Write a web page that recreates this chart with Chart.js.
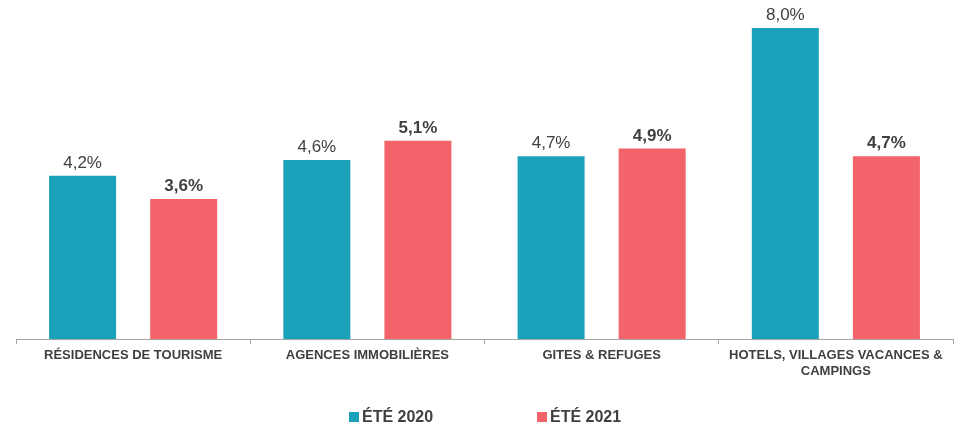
<!DOCTYPE html>
<html><head><meta charset="utf-8">
<script src="https://cdn.jsdelivr.net/npm/chart.js@4"></script>
<style>
html,body{margin:0;padding:0;background:#fff;}
#wrap{position:relative;width:956px;height:429px;}
#legend{position:absolute;top:408px;left:0;width:956px;font:bold 16px "Liberation Sans",Arial,sans-serif;color:#404040;}
#legend span{position:absolute;top:0;white-space:nowrap;}
#legend i{display:inline-block;width:10px;height:10px;margin-right:3px;vertical-align:0px;}
</style></head>
<body>
<div id="wrap"><canvas id="c" width="956" height="429"></canvas>
<div id="legend"></div></div>
<script>
const categories = ["RÉSIDENCES DE TOURISME", "AGENCES IMMOBILIÈRES", "GITES & REFUGES", ["HOTELS, VILLAGES VACANCES &", "CAMPINGS"]];
const seriesNames = ["ÉTÉ 2020", "ÉTÉ 2021"];
const ete2020 = [4.2, 4.6, 4.7, 8.0];
const ete2021 = [3.6, 5.1, 4.9, 4.7];
const colors = ["#1BA1B9", "#F2646A"];

const fmt = v => v.toFixed(1).replace('.', ',') + '%';

const valueLabels = {
  id: 'valueLabels',
  afterDatasetsDraw(chart) {
    const ctx = chart.ctx;
    ctx.save();
    ctx.textAlign = 'center';
    ctx.textBaseline = 'bottom';
    ctx.fillStyle = '#404040';
    chart.data.datasets.forEach((ds, di) => {
      const meta = chart.getDatasetMeta(di);
      ctx.font = (di === 1 ? 'bold ' : '') + '17px "Liberation Sans", Arial, sans-serif';
      meta.data.forEach((bar, i) => {
        ctx.fillText(fmt(ds.data[i]), bar.x, bar.y - 4);
      });
    });
    ctx.restore();
  }
};

new Chart(document.getElementById('c'), {
  type: 'bar',
  data: {
    labels: categories,
    datasets: [
      {label: seriesNames[0], data: ete2020, backgroundColor: colors[0], categoryPercentage: 0.863, barPercentage: 0.663},
      {label: seriesNames[1], data: ete2021, backgroundColor: colors[1], categoryPercentage: 0.863, barPercentage: 0.663}
    ]
  },
  options: {
    responsive: false,
    animation: false,
    layout: {padding: {left: 16, right: 3, top: 10, bottom: 0}},
    plugins: {legend: {display: false}, tooltip: {enabled: false}},
    scales: {
      y: {display: false, min: 0, max: 8.46},
      x: {
        grid: {display: true, drawOnChartArea: false, drawTicks: true, tickLength: 5, color: '#A6A6A6'},
        border: {display: true, color: '#A6A6A6', width: 1},
        ticks: {color: '#404040', font: {family: '"Liberation Sans", Arial, sans-serif', size: 13, weight: 'bold'}, padding: 4, maxRotation: 0, autoSkip: false},
        afterFit(scale) { scale.height = 90; }
      }
    }
  },
  plugins: [valueLabels]
});

const legend = document.getElementById('legend');
const legendX = [349, 537];
seriesNames.forEach((n, i) => {
  const s = document.createElement('span');
  s.style.left = legendX[i] + 'px';
  s.innerHTML = '<i style="background:' + colors[i] + '"></i>' + n;
  legend.appendChild(s);
});
</script>
</body></html>
